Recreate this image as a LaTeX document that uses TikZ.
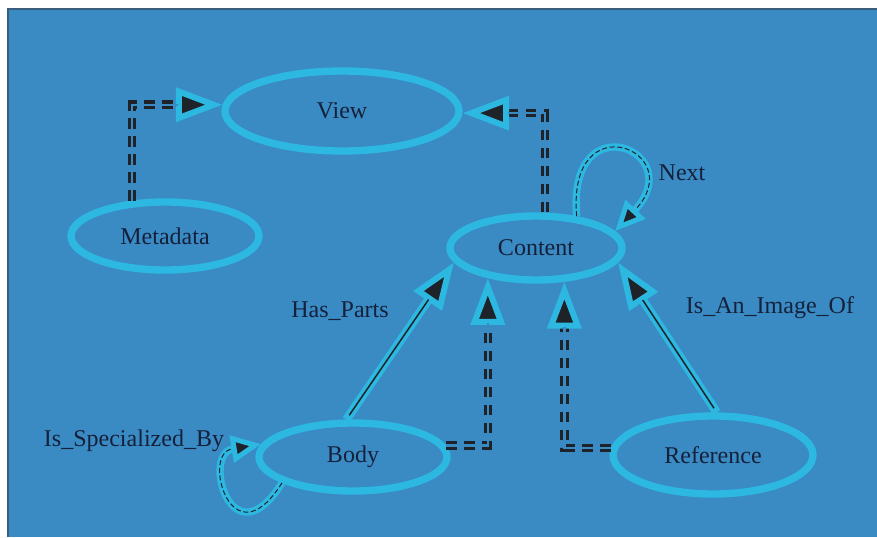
\documentclass[tikz,border=0pt]{standalone}
\usepackage{fontspec}
\setmainfont{Liberation Serif}
\usetikzlibrary{shapes.geometric,arrows.meta,calc}
\definecolor{bgblue}{HTML}{3A8AC4}
\definecolor{ringcyan}{HTML}{2DB8E2}
\definecolor{ink}{HTML}{1E2329}
\definecolor{labelink}{HTML}{15213A}
\definecolor{rimline}{HTML}{3B5E7E}
\tikzset{
  gvtip/.tip={Triangle[length=14mm,width=10mm,line width=1.8mm,color=ringcyan,fill=ink]},
  looptip/.tip={Triangle[length=9mm,width=8mm,line width=1.5mm,color=ringcyan,fill=ink]}
}
\begin{document}
\begin{tikzpicture}[x=0.3mm,y=-0.3mm,
  class/.style={ellipse,draw=ringcyan,line width=2.2mm,inner sep=0pt,text=labelink,font=\fontsize{20.5}{24}\selectfont},
  lbl/.style={text=labelink,font=\fontsize{20.5}{24}\selectfont,inner sep=0pt},
  dep/.style={draw=ink,line width=2.6mm,dash pattern=on 3.2mm off 2.2mm,-{gvtip},
    postaction={draw=bgblue,line width=0.7mm,solid,-,shorten >=13.5mm}},
  rel/.style={draw=ringcyan,line width=2.6mm,-{gvtip},
    postaction={draw=ink,line width=0.45mm,solid,-,shorten >=13.5mm,shorten <=1.5mm}},
  selfrel/.style={draw=ringcyan,line width=2.2mm,-{looptip},
    postaction={draw=ink,line width=0.3mm,dash pattern=on 1.5mm off 0.8mm,-,shorten >=9mm}}]
\useasboundingbox (0,0) rectangle (877,537);
\fill[bgblue] (8,9) rectangle (877,537);
\draw[rimline,line width=0.6mm] (8,537) -- (8,9) -- (877,9);
\node[class,minimum width=70.2mm,minimum height=24mm] (view) at (342,111) {View};
\node[class,minimum width=56.4mm,minimum height=20.4mm] (meta) at (165,236) {Metadata};
\node[class,minimum width=51.6mm,minimum height=19.2mm] (content) at (536,248) {Content};
\node[class,minimum width=56.4mm,minimum height=20.4mm] (body) at (353,457) {Body};
\node[class,minimum width=60mm,minimum height=23.4mm] (reference) at (713,455) {Reference};
\node[lbl] (nextlbl) at (682,173) {Next};
\node[lbl] (partslbl) at (340,311) {Has\_Parts};
\node[lbl] (imagelbl) at (770,308) {Is\_An\_Image\_Of};
\node[lbl] (speclbl) at (134,441) {Is\_Specialized\_By};
\draw[dep] (meta.133) |- (view.177);
\draw[dep] ($(content.north)+(9,0)$) |- (view.359);
\draw[dep] (body.7) -| (content.212);
\draw[dep] (reference.176) -| (content.310);
\draw[rel] (body.100) -- (content.190);
\draw[rel] (reference.85) -- (content.350);
\draw[selfrel] (content.38) .. controls +(-10,-115) and +(75,-80) .. (content.12);
\draw[selfrel] (body.200) .. controls +(-50,80) and +(-60,10) .. (body.172);
\end{tikzpicture}
\end{document}
